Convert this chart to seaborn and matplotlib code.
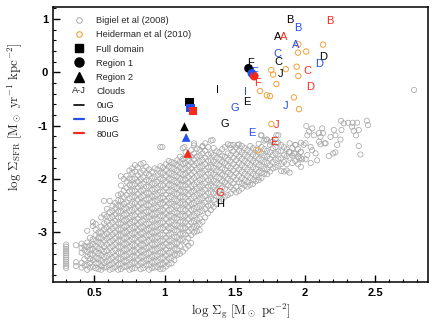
import matplotlib
matplotlib.use("Agg")
import matplotlib.pyplot as plt
import matplotlib.text as mtext
from matplotlib.lines import Line2D
from matplotlib.legend_handler import HandlerBase
from matplotlib.ticker import MultipleLocator, FormatStrFormatter
import seaborn as sns
import pandas as pd

# Bigiel et al (2008) cloud
bigiel_col_x = [0.30, 0.37, 0.41, 0.45, 0.49, 0.53, 0.57, 0.61, 0.65, 0.69, 0.73, 0.77, 0.81,
                0.85, 0.89, 0.93, 0.97, 1.01, 1.05, 1.09, 1.13, 1.17, 1.21, 1.25, 1.29, 1.33,
                1.37, 1.41, 1.45, 1.49, 1.53, 1.57, 1.61, 1.65, 1.69, 1.73, 1.77, 1.81, 1.85,
                1.89, 1.93, 1.97]
bigiel_col_y = [
    [-3.23, -3.27, -3.31, -3.35, -3.39, -3.43, -3.47, -3.51, -3.55, -3.59, -3.63, -3.67],
    [-3.24, -3.56, -3.63],
    [-3.21, -3.29, -3.38, -3.57, -3.66],
    [-2.97, -3.19, -3.27, -3.36, -3.45, -3.61, -3.70],
    [-2.81, -2.88, -3.13, -3.22, -3.31, -3.42, -3.52, -3.64],
    [-3.00, -3.10, -3.19, -3.30, -3.39, -3.49, -3.58, -3.69],
    [-2.41, -2.67, -2.83, -2.94, -3.05, -3.15, -3.26, -3.36, -3.46, -3.57, -3.66],
    [-2.41, -2.62, -2.73, -2.86, -2.97, -3.08, -3.18, -3.29, -3.41, -3.52, -3.61, -3.70],
    [-2.45, -2.55, -2.66, -2.78, -2.89, -3.00, -3.11, -3.22, -3.33, -3.44, -3.54, -3.65],
    [-1.95, -2.12, -2.28, -2.40, -2.51, -2.61, -2.72, -2.83, -2.94, -3.05, -3.16, -3.27, -3.38, -3.49, -3.59, -3.69],
    [-1.94, -2.05, -2.17, -2.30, -2.44, -2.55, -2.66, -2.77, -2.88, -2.99, -3.10, -3.21, -3.32, -3.43, -3.54, -3.64],
    [-1.80, -1.88, -2.00, -2.11, -2.22, -2.34, -2.46, -2.58, -2.69, -2.80, -2.91, -3.02, -3.13, -3.24, -3.35, -3.46, -3.57, -3.68],
    [-1.78, -1.93, -2.05, -2.16, -2.28, -2.39, -2.51, -2.62, -2.74, -2.85, -2.96, -3.07, -3.18, -3.29, -3.40, -3.51, -3.62],
    [-1.70, -1.84, -1.97, -2.09, -2.21, -2.32, -2.44, -2.55, -2.67, -2.78, -2.90, -3.01, -3.12, -3.23, -3.34, -3.45, -3.56, -3.67],
    [-1.82, -1.92, -2.03, -2.14, -2.26, -2.37, -2.49, -2.60, -2.71, -2.83, -2.94, -3.05, -3.16, -3.28, -3.39, -3.50, -3.61, -3.70],
    [-1.80, -1.96, -2.08, -2.19, -2.31, -2.42, -2.54, -2.65, -2.76, -2.88, -2.99, -3.10, -3.22, -3.33, -3.44, -3.55, -3.66],
    [-1.40, -1.76, -1.88, -2.00, -2.12, -2.24, -2.36, -2.47, -2.59, -2.70, -2.82, -2.93, -3.04, -3.16, -3.27, -3.38, -3.49, -3.60, -3.69],
    [-1.72, -1.83, -1.94, -2.05, -2.17, -2.29, -2.41, -2.52, -2.64, -2.75, -2.87, -2.98, -3.10, -3.21, -3.32, -3.43, -3.54, -3.64],
    [-1.68, -1.79, -1.90, -2.01, -2.12, -2.23, -2.34, -2.46, -2.57, -2.69, -2.80, -2.92, -3.03, -3.15, -3.26, -3.37, -3.48, -3.58],
    [-1.65, -1.74, -1.84, -1.95, -2.06, -2.17, -2.28, -2.40, -2.51, -2.63, -2.74, -2.86, -2.97, -3.09, -3.20, -3.31, -3.42],
    [-1.42, -1.62, -1.71, -1.81, -1.91, -2.02, -2.12, -2.23, -2.34, -2.46, -2.57, -2.69, -2.80, -2.92, -3.03, -3.15, -3.36],
    [-1.55, -1.65, -1.75, -1.85, -1.96, -2.07, -2.18, -2.29, -2.41, -2.52, -2.64, -2.75, -2.87, -2.98, -3.10, -3.25],
    [-1.37, -1.52, -1.63, -1.74, -1.86, -1.98, -2.10, -2.22, -2.33, -2.45, -2.56, -2.68, -2.79, -2.90, -3.00],
    [-1.45, -1.56, -1.67, -1.78, -1.90, -2.02, -2.14, -2.26, -2.38, -2.50, -2.62, -2.74, -2.85, -2.96],
    [-1.33, -1.47, -1.60, -1.72, -1.84, -1.96, -2.08, -2.20, -2.32, -2.44, -2.56, -2.72],
    [-1.28, -1.52, -1.65, -1.77, -1.89, -2.01, -2.13, -2.25, -2.37, -2.49, -2.58],
    [-1.48, -1.60, -1.72, -1.84, -1.96, -2.08, -2.20, -2.32, -2.47],
    [-1.44, -1.56, -1.68, -1.80, -1.92, -2.04, -2.16, -2.28, -2.38],
    [-1.35, -1.52, -1.64, -1.76, -1.88, -2.00, -2.12, -2.30],
    [-1.36, -1.48, -1.60, -1.72, -1.84, -1.96, -2.08, -2.20],
    [-1.35, -1.47, -1.58, -1.70, -1.82, -1.94, -2.06, -2.22],
    [-1.42, -1.54, -1.66, -1.78, -1.90, -2.02, -2.12],
    [-1.38, -1.50, -1.62, -1.74, -1.86, -1.98, -2.11],
    [-1.45, -1.57, -1.69, -1.81, -1.93, -2.04],
    [-1.18, -1.40, -1.52, -1.64, -1.76, -1.88, -1.98],
    [-1.26, -1.47, -1.58, -1.70, -1.82, -1.91],
    [-1.30, -1.42, -1.55, -1.68, -1.80],
    [-1.18, -1.32, -1.48, -1.62, -1.75],
    [-1.40, -1.55, -1.68, -1.86],
    [-1.33, -1.49, -1.60, -1.88],
    [-1.36, -1.52, -1.66],
    [-1.32, -1.49, -1.61, -1.77],
]
# second pass over the dense part, between the columns above
bigiel_mid_x = [0.43, 0.47, 0.51, 0.55, 0.59, 0.63, 0.67, 0.71, 0.75, 0.79, 0.83, 0.87, 0.91,
                0.95, 0.99, 1.03, 1.07, 1.11, 1.15, 1.19, 1.23, 1.27, 1.31, 1.35, 1.39, 1.43,
                1.47, 1.51, 1.55, 1.59, 1.63, 1.67, 1.71, 1.75, 1.79, 1.83, 1.87, 1.91, 1.95]
bigiel_mid_y = [
    [-3.25, -3.33, -3.50, -3.62],
    [-3.10, -3.24, -3.32, -3.41, -3.50, -3.57, -3.66],
    [-2.84, -2.95, -3.05, -3.16, -3.26, -3.36, -3.47, -3.58, -3.67],
    [-2.72, -2.89, -3.00, -3.11, -3.22, -3.33, -3.43, -3.53, -3.63, -3.70],
    [-2.56, -2.70, -2.80, -2.91, -3.02, -3.12, -3.23, -3.34, -3.44, -3.55, -3.65],
    [-2.50, -2.60, -2.71, -2.82, -2.93, -3.04, -3.15, -3.26, -3.37, -3.48, -3.58, -3.68],
    [-2.30, -2.40, -2.50, -2.61, -2.72, -2.83, -2.94, -3.05, -3.16, -3.27, -3.38, -3.49, -3.60, -3.70],
    [-2.00, -2.22, -2.34, -2.46, -2.56, -2.67, -2.78, -2.89, -3.00, -3.11, -3.22, -3.33, -3.44, -3.54, -3.65],
    [-1.84, -1.99, -2.11, -2.23, -2.36, -2.49, -2.60, -2.72, -2.83, -2.94, -3.05, -3.16, -3.27, -3.38, -3.49, -3.60, -3.70],
    [-1.74, -1.86, -1.99, -2.10, -2.22, -2.33, -2.45, -2.56, -2.68, -2.79, -2.90, -3.01, -3.12, -3.24, -3.35, -3.46, -3.57, -3.67],
    [-1.72, -1.88, -2.00, -2.11, -2.22, -2.34, -2.45, -2.57, -2.68, -2.80, -2.91, -3.02, -3.13, -3.24, -3.35, -3.46, -3.57, -3.69],
    [-1.77, -1.89, -2.02, -2.14, -2.26, -2.38, -2.49, -2.61, -2.72, -2.84, -2.95, -3.06, -3.18, -3.29, -3.40, -3.51, -3.62],
    [-1.86, -1.98, -2.09, -2.20, -2.32, -2.43, -2.55, -2.66, -2.77, -2.89, -3.00, -3.11, -3.22, -3.33, -3.45, -3.56, -3.67],
    [-1.82, -1.93, -2.05, -2.17, -2.29, -2.40, -2.52, -2.63, -2.75, -2.86, -2.98, -3.09, -3.20, -3.31, -3.43, -3.54, -3.65],
    [-1.78, -1.89, -2.01, -2.12, -2.23, -2.35, -2.46, -2.58, -2.69, -2.81, -2.92, -3.04, -3.15, -3.26, -3.37, -3.48, -3.59, -3.68],
    [-1.66, -1.77, -1.89, -2.00, -2.11, -2.23, -2.35, -2.46, -2.58, -2.69, -2.81, -2.92, -3.04, -3.15, -3.26, -3.38, -3.49, -3.60],
    [-1.70, -1.81, -1.93, -2.04, -2.15, -2.27, -2.38, -2.50, -2.62, -2.73, -2.85, -2.96, -3.08, -3.19, -3.31, -3.42, -3.52],
    [-1.58, -1.68, -1.78, -1.89, -2.00, -2.11, -2.22, -2.34, -2.45, -2.57, -2.68, -2.80, -2.91, -3.03, -3.14, -3.26, -3.40],
    [-1.50, -1.60, -1.70, -1.80, -1.90, -2.01, -2.12, -2.24, -2.35, -2.47, -2.58, -2.69, -2.81, -2.92, -3.04, -3.18, -3.30],
    [-1.46, -1.58, -1.69, -1.80, -1.91, -2.02, -2.13, -2.24, -2.36, -2.47, -2.58, -2.70, -2.81, -2.93, -3.05, -3.20],
    [-1.43, -1.58, -1.70, -1.82, -1.94, -2.06, -2.18, -2.29, -2.41, -2.53, -2.64, -2.76, -2.88, -2.98],
    [-1.38, -1.52, -1.64, -1.76, -1.88, -2.00, -2.12, -2.24, -2.36, -2.48, -2.60, -2.80],
    [-1.40, -1.54, -1.66, -1.78, -1.90, -2.02, -2.14, -2.26, -2.38, -2.50, -2.64],
    [-1.42, -1.55, -1.67, -1.79, -1.91, -2.03, -2.15, -2.27, -2.39, -2.52],
    [-1.50, -1.62, -1.74, -1.86, -1.98, -2.10, -2.22, -2.34, -2.42],
    [-1.40, -1.58, -1.70, -1.82, -1.94, -2.06, -2.18, -2.33],
    [-1.42, -1.55, -1.67, -1.79, -1.91, -2.03, -2.15, -2.27],
    [-1.41, -1.53, -1.65, -1.77, -1.89, -2.01, -2.14, -2.25],
    [-1.38, -1.50, -1.62, -1.74, -1.86, -1.98, -2.08, -2.18],
    [-1.46, -1.58, -1.70, -1.82, -1.94, -2.06, -2.14],
    [-1.42, -1.54, -1.66, -1.78, -1.90, -2.02, -2.09],
    [-1.34, -1.50, -1.62, -1.74, -1.86, -1.97, -2.02],
    [-1.28, -1.44, -1.56, -1.68, -1.80, -1.90],
    [-1.36, -1.50, -1.62, -1.74, -1.86],
    [-1.25, -1.40, -1.52, -1.64, -1.78],
    [-1.36, -1.48, -1.61, -1.72, -1.85],
    [-1.44, -1.57, -1.72, -1.84],
    [-1.42, -1.56, -1.70],
    [-1.44, -1.58, -1.72],
]
# sparse Bigiel points at the upper edge and the high-density tail
bigiel_side_x = [0.985, 1.142, 1.21, 1.27, 1.343, 1.47, 1.52, 1.685, 1.72, 1.756, 1.796, 1.796,
                 1.886, 1.921, 1.933, 1.957, 1.969, 1.98, 1.99, 2.004, 2.004, 2.009, 2.016, 2.016,
                 2.028, 2.04, 2.04, 2.05, 2.051, 2.063, 2.075, 2.086, 2.098, 2.10, 2.11, 2.11,
                 2.122, 2.127, 2.139, 2.146, 2.169, 2.181, 2.20, 2.205, 2.216, 2.216, 2.228, 2.252,
                 2.256, 2.259, 2.275, 2.306, 2.334, 2.339, 2.346, 2.363, 2.37, 2.382, 2.382, 2.394,
                 2.44, 2.448, 2.776]
bigiel_side_y = [-1.40, -1.40, -1.33, -1.40, -1.27, -1.36, -1.36, -1.18, -1.26, -1.30, -1.18, -1.32,
                 -1.49, -1.52, -1.36, -1.61, -1.49, -1.63, -1.36, -1.33, -1.63, -1.007, -1.18, -1.55,
                 -1.11, -1.40, -1.70, -1.46, -1.05, -1.18, -1.52, -1.65, -1.14, -1.30, -1.21, -1.35,
                 -1.05, -1.14, -1.33, -1.33, -1.57, -1.21, -1.52, -1.08, -1.18, -1.50, -1.36, -1.26,
                 -0.908, -1.08, -0.957, -0.945, -1.02, -0.945, -1.096, -1.18, -0.945, -1.08, -1.38, -1.54,
                 -0.908, -0.99, -0.33]

# Heiderman et al (2010)
heid_x = [2.128, 1.952, 1.95, 2.008, 1.94, 1.952, 1.863, 1.76, 1.773, 1.796, 1.68, 1.728, 1.75,
          1.921, 1.957, 1.76, 1.666]
heid_y = [0.52, 0.525, 0.37, 0.39, 0.105, -0.07, 0.06, 0.043, -0.04, -0.22, -0.35, -0.43, -0.445,
          -0.47, -0.69, -0.97, -1.46]

# runs: 0uG, 10uG, 80uG
run_names = ['0uG', '10uG', '80uG']
full_x = [1.178, 1.185, 1.201]
full_y = [-0.55, -0.675, -0.726]
reg1_x = [1.598, 1.622, 1.638]
reg1_y = [0.075, -0.02, -0.07]
reg2_x = [1.142, 1.154, 1.166]
reg2_y = [-1.02, -1.22, -1.52]

# clouds A-J
cloud_0_lab = ['B', 'A', 'C', 'D', 'J', 'F', 'I', 'E', 'G', 'H']
cloud_0_x = [1.891, 1.808, 1.81, 2.127, 1.827, 1.615, 1.378, 1.584, 1.426, 1.397]
cloud_0_y = [0.99, 0.657, 0.20, 0.29, -0.03, 0.17, -0.33, -0.55, -0.97, -2.47]
cloud_10_lab = ['B', 'A', 'C', 'D', 'F', 'I', 'G', 'J', 'E']
cloud_10_x = [1.945, 1.933, 1.80, 2.103, 1.638, 1.574, 1.501, 1.858, 1.622]
cloud_10_y = [0.825, 0.51, 0.34, 0.156, 0.01, -0.36, -0.675, -0.63, -1.145]
cloud_80_lab = ['B', 'A', 'C', 'D', 'F', 'J', 'E', 'G']
cloud_80_x = [2.176, 1.85, 2.016, 2.033, 1.662, 1.799, 1.775, 1.39]
cloud_80_y = [0.97, 0.657, 0.025, -0.27, -0.195, -0.99, -1.30, -2.27]

run_colors = ['black', '#2450f0', '#f52a1c']


class TextHandler(HandlerBase):
    def create_artists(self, legend, orig_handle, xdescent, ydescent, width, height, fontsize, trans):
        t = mtext.Text(width / 2 - xdescent, height / 2 - ydescent, orig_handle.get_text(),
                       ha='center', va='center', fontsize=fontsize, transform=trans)
        return [t]


sns.set_style('ticks')
plt.rcParams['font.family'] = ['Liberation Sans', 'DejaVu Sans']
plt.rcParams['mathtext.fontset'] = 'cm'
plt.rcParams['axes.unicode_minus'] = False

fig = plt.figure(figsize=(4.36, 3.36), dpi=100)
ax = fig.add_axes([0.1227, 0.1607, 0.859, 0.8185])

bx, by = [], []
for cols_x, cols_y in [(bigiel_col_x, bigiel_col_y), (bigiel_mid_x, bigiel_mid_y)]:
    for cx, ys in zip(cols_x, cols_y):
        bx += [cx] * len(ys)
        by += ys
bx += bigiel_side_x
by += bigiel_side_y
bigiel = pd.DataFrame({'x': bx, 'y': by})

sns.scatterplot(data=bigiel, x='x', y='y', ax=ax, marker='o', s=14, facecolor='none',
                edgecolor='#a8a8a8', linewidth=0.55, zorder=2)
sns.scatterplot(x=heid_x, y=heid_y, ax=ax, marker='o', s=15, facecolor='none',
                edgecolor='#f5a03a', linewidth=0.7, zorder=3)

sns.scatterplot(x=full_x, y=full_y, hue=run_names, palette=run_colors, marker='s', s=34,
                linewidth=0, ax=ax, legend=False, zorder=4)
sns.scatterplot(x=reg1_x, y=reg1_y, hue=run_names, palette=run_colors, marker='o', s=40,
                linewidth=0, ax=ax, legend=False, zorder=4)
sns.scatterplot(x=reg2_x, y=reg2_y, hue=run_names, palette=run_colors, marker='^', s=40,
                linewidth=0, ax=ax, legend=False, zorder=4)

for labs, xs, ys, col in [(cloud_0_lab, cloud_0_x, cloud_0_y, run_colors[0]),
                          (cloud_10_lab, cloud_10_x, cloud_10_y, run_colors[1]),
                          (cloud_80_lab, cloud_80_x, cloud_80_y, run_colors[2])]:
    for lab, x, y in zip(labs, xs, ys):
        ax.text(x, y, lab, color=col, fontsize=8, ha='center', va='center', zorder=5)

ax.set_xlim(0.21, 2.875)
ax.set_ylim(-3.93, 1.225)
ax.xaxis.set_major_locator(MultipleLocator(0.5))
ax.xaxis.set_minor_locator(MultipleLocator(0.1))
ax.yaxis.set_major_locator(MultipleLocator(1))
ax.yaxis.set_minor_locator(MultipleLocator(0.2))
ax.xaxis.set_major_formatter(FormatStrFormatter('%g'))
ax.yaxis.set_major_formatter(FormatStrFormatter('%g'))
ax.tick_params(which='both', direction='in', colors='black', labelsize=8)
ax.tick_params(which='major', length=5, width=1.0, pad=4)
ax.tick_params(which='minor', length=2.5, width=0.8)
for lab in ax.get_xticklabels() + ax.get_yticklabels():
    lab.set_fontweight('bold')
for sp in ax.spines.values():
    sp.set_linewidth(1.1)
    sp.set_color('black')

ax.set_xlabel(r'$\log\,\Sigma_{\rm g}\ [{\rm M_\odot\ pc^{-2}}]$', fontsize=9.3, labelpad=3)
ax.set_ylabel(r'$\log\,\Sigma_{\rm SFR}\ [{\rm M_\odot\ yr^{-1}\ kpc^{-2}}]$', fontsize=9.3)
ax.yaxis.set_label_coords(-0.079, 0.6)

handles = [
    Line2D([], [], ls='', marker='o', ms=4, mfc='none', mec='#a8a8a8', mew=0.7),
    Line2D([], [], ls='', marker='o', ms=4, mfc='none', mec='#f5a03a', mew=0.8),
    Line2D([], [], ls='', marker='s', ms=6, color='black'),
    Line2D([], [], ls='', marker='o', ms=6.5, color='black'),
    Line2D([], [], ls='', marker='^', ms=6.5, color='black'),
    mtext.Text(text='A-J'),
    Line2D([], [], color=run_colors[0], lw=1.2),
    Line2D([], [], color=run_colors[1], lw=1.6),
    Line2D([], [], color=run_colors[2], lw=1.6),
]
labels = ['Bigiel et al (2008)', 'Heiderman et al (2010)', 'Full domain', 'Region 1', 'Region 2',
          'Clouds', '0uG', '10uG', '80uG']
ax.legend(handles, labels, loc='upper left', bbox_to_anchor=(0.045, 0.98), frameon=False,
          fontsize=6.7, handlelength=1.1, handletextpad=1.3, labelspacing=0.555,
          borderaxespad=0, handler_map={mtext.Text: TextHandler()})

fig.savefig('out.png', dpi=100)
